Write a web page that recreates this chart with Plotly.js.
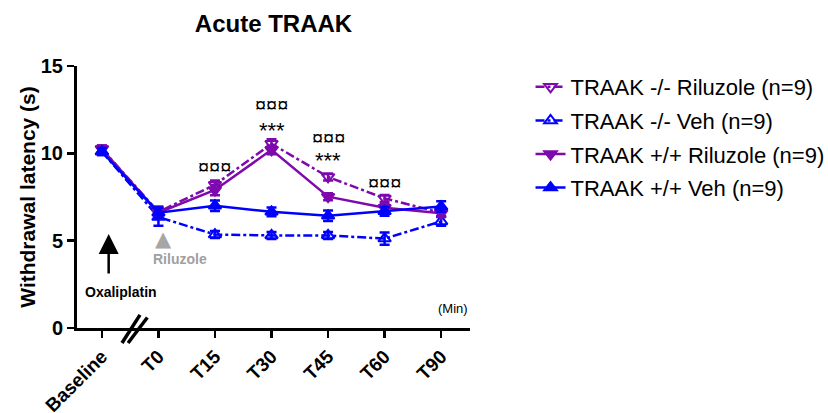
<!DOCTYPE html>
<html>
<head>
<meta charset="utf-8">
<script src="https://cdn.plot.ly/plotly-3.0.1.min.js"></script>
<style>html,body{margin:0;padding:0;background:#fff;}#chart{width:828px;height:413px;}</style>
</head>
<body>
<div id="chart"></div>
<script>
// Data
const timepoints = ["Baseline", "T0", "T15", "T30", "T45", "T60", "T90"];

const koRiluzole = [10.25, 6.65, 8.2, 10.55, 8.65, 7.42, 6.6];
const koRiluzoleErr = [0.2, 0.3, 0.25, 0.25, 0.2, 0.2, 0.2];

const koVeh = [10.1, 6.35, 5.35, 5.3, 5.3, 5.12, 6.1];
const koVehErr = [0.2, 0.5, 0.2, 0.2, 0.2, 0.35, 0.25];

const wtRiluzole = [10.25, 6.6, 7.9, 10.2, 7.52, 6.88, 6.57];
const wtRiluzoleErr = [0.2, 0.3, 0.3, 0.25, 0.2, 0.2, 0.2];

const wtVeh = [10.1, 6.6, 7.0, 6.65, 6.42, 6.68, 6.95];
const wtVehErr = [0.2, 0.3, 0.3, 0.25, 0.3, 0.25, 0.3];

const seriesNames = ["TRAAK -/- Riluzole (n=9)", "TRAAK -/- Veh (n=9)", "TRAAK +/+ Riluzole (n=9)", "TRAAK +/+ Veh (n=9)"];

// significance labels
const sigX = ["T15", "T30", "T30", "T45", "T45", "T60"];
const sigY = [9.2, 12.75, 11.3, 10.85, 9.6, 8.3];
const sigText = ["¤¤¤", "¤¤¤", "***", "¤¤¤", "***", "¤¤¤"];
const sigSize = [20, 20, 22, 20, 22, 20];

const PURPLE = "#7E0AAE";
const BLUE = "#0000FF";

function trace(name, y, err, color, symbol, dash, grp) {
  return {
    type: "scatter", mode: "lines+markers", name: name, legendgroup: grp,
    x: timepoints, y: y,
    error_y: {type: "data", array: err, visible: true, color: color, thickness: 2.5, width: 5},
    line: {color: color, width: 2.5, dash: dash},
    marker: {color: color, symbol: symbol, size: 11, line: {color: color, width: 2}},
    cliponaxis: false
  };
}

const data = [
  trace(seriesNames[0], koRiluzole, koRiluzoleErr, PURPLE, "triangle-down-open", "dashdot", "g1"),
  trace(seriesNames[1], koVeh, koVehErr, BLUE, "triangle-up-open", "dashdot", "g2"),
  trace(seriesNames[2], wtRiluzole, wtRiluzoleErr, PURPLE, "triangle-down", "solid", "g3"),
  trace(seriesNames[3], wtVeh, wtVehErr, BLUE, "triangle-up", "solid", "g4")
];

const FONT = "Arial, 'Liberation Sans', sans-serif";

const annotations = sigText.map((t, i) => ({
  x: sigX[i], y: sigY[i], xref: "x", yref: "y", text: t, showarrow: false,
  font: {family: FONT, size: sigSize[i], color: "#000"}, xanchor: "center", yanchor: "middle"
}));

annotations.push(
  {x: 0.12, y: 5.38, xref: "x", yref: "y", text: " ", showarrow: true, ax: 0, ay: 48,
   arrowhead: 2, arrowsize: 1.6, arrowwidth: 2.5, arrowcolor: "#000"},
  {x: 0.33, y: 2.05, xref: "x", yref: "y", text: "Oxaliplatin", showarrow: false,
   font: {family: FONT, size: 14, color: "#000", weight: "bold"}, xanchor: "center", yanchor: "middle"},
  {x: 1.09, y: 5.1, xref: "x", yref: "y", text: "▲", showarrow: false,
   font: {family: "DejaVu Sans", size: 21, color: "#A6A6A6"}, xanchor: "center", yanchor: "middle"},
  {x: 1.39, y: 3.95, xref: "x", yref: "y", text: "Riluzole", showarrow: false,
   font: {family: FONT, size: 14, color: "#A0A0A0", weight: "bold"}, xanchor: "center", yanchor: "middle"},
  {x: 1, y: 0.075, xref: "paper", yref: "paper", text: "(Min)", showarrow: false,
   font: {family: FONT, size: 13, color: "#000"}, xanchor: "right", yanchor: "middle"}
);

const shapes = [
  {type: "line", xref: "paper", yref: "paper", x0: 0.1145, y0: -0.057, x1: 0.1603, y1: 0.05, line: {color: "#000", width: 3.5}},
  {type: "line", xref: "paper", yref: "paper", x0: 0.130, y0: -0.057, x1: 0.179, y1: 0.04, line: {color: "#000", width: 3.5}}
];

const layout = {
  width: 828, height: 413,
  margin: {l: 77, r: 358, t: 66, b: 85, autoexpand: false},
  paper_bgcolor: "#fff", plot_bgcolor: "#fff",
  font: {family: FONT, color: "#000"},
  title: {text: "Acute TRAAK", font: {family: FONT, size: 24, weight: "bold", color: "#000"},
          x: 0.5, xref: "paper", xanchor: "center", y: 1 - 24/413, yref: "container", yanchor: "middle"},
  xaxis: {
    type: "category", categoryarray: timepoints, range: [-0.44, 6.51],
    showline: true, linewidth: 3, linecolor: "#000", mirror: false,
    ticks: "outside", ticklen: 7, tickwidth: 2.5, tickcolor: "#000",
    tickangle: -45, tickfont: {family: FONT, size: 19, weight: "bold", color: "#000"},
    showgrid: false, zeroline: false, fixedrange: true, automargin: false
  },
  yaxis: {
    range: [0, 15], tickvals: [0, 5, 10, 15],
    showline: true, linewidth: 3, linecolor: "#000",
    ticks: "outside", ticklen: 7, tickwidth: 2.5, tickcolor: "#000",
    tickfont: {family: FONT, size: 20, weight: "bold", color: "#000"},
    showgrid: false, zeroline: false, automargin: false,
    title: {text: "Withdrawal latency (s)", font: {family: FONT, size: 21, weight: "bold", color: "#000"}, standoff: 0}
  },
  legend: {
    x: 1.154, y: 1.0, xanchor: "left", yanchor: "top",
    font: {family: FONT, size: 22, color: "#000"},
    bgcolor: "rgba(0,0,0,0)", itemwidth: 30, tracegroupgap: 2
  },
  showlegend: true,
  annotations: annotations,
  shapes: shapes
};

Plotly.newPlot("chart", data, layout, {displayModeBar: false, staticPlot: true});
</script>
</body>
</html>
